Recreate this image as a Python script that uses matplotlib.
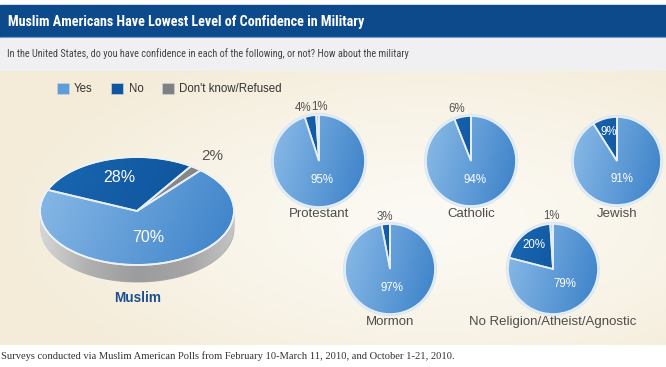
import numpy as np
import matplotlib
matplotlib.use('Agg')
import matplotlib.pyplot as plt
from matplotlib.patches import Rectangle, Patch, Circle
from matplotlib.colors import LinearSegmentedColormap, to_rgb
from matplotlib import font_manager

# --- data ---
responses = ['Yes', 'No', "Don't know/Refused"]
muslim = [70, 28, 2]
groups = ['Protestant', 'Catholic', 'Jewish', 'Mormon', 'No Religion/Atheist/Agnostic']
yes_vals = [95, 94, 91, 97, 79]
no_vals = [4, 6, 9, 3, 20]
dk_vals = [1, 0, 0, 0, 1]

title = 'Muslim Americans Have Lowest Level of Confidence in Military'
subtitle = ('In the United States, do you have confidence in each of the following, '
            'or not? How about the military')
footer = ('Surveys conducted via Muslim American Polls from February 10-March 11, 2010, '
          'and October 1-21, 2010.')

# layout (pixels) for the small pies: centre x, centre y, radius
small_pos = [(319, 161, 46), (471, 161, 45), (617, 161, 44), (390, 269, 45), (553, 269, 45)]

yes_grad = ('#8cbce8', '#3a80c8')
no_grad = ('#1a68b2', '#0a4c94')
dk_grad_small = ('#d4d4d4', '#b8b8b8')
dk_grad_big = ('#a0a0a0', '#787878')
edge_col = '#e6eff8'

W, H = 666, 367
fig = plt.figure(figsize=(W / 100, H / 100), dpi=100)

# look for a condensed sans face for the header texts
fonts = font_manager.fontManager.ttflist
names = {f.name for f in fonts}
narrow, stretch = 'Liberation Sans', 'normal'
for cand in ['Liberation Sans Narrow', 'Arial Narrow', 'Roboto Condensed', 'Open Sans Condensed',
             'Noto Sans Condensed']:
    if cand in names:
        narrow = cand
        break
else:
    cond = [f.name for f in fonts if f.stretch in ('condensed', 'semi-condensed', 'narrow')
            or (isinstance(f.stretch, int) and f.stretch < 500)]
    for fam in ['Liberation Sans', 'Noto Sans', 'Roboto', 'Open Sans', 'DejaVu Sans']:
        if fam in cond:
            narrow, stretch = fam, 'condensed'
            break


def fx(x):
    return x / W


def fy(y):
    return 1 - y / H


# --- background bands ---
bg = fig.add_axes([0, 0, 1, 1])
bg.set_xlim(0, W)
bg.set_ylim(H, 0)
bg.axis('off')
yy, xx = np.mgrid[70:345, 0:W]
dist = np.sqrt(((xx - 430) / 430.0) ** 2 + ((yy - 220) / 190.0) ** 2)
t = np.clip(dist, 0, 1)[..., None] ** 1.3
c_in, c_out = np.array(to_rgb('#fcfaf4')), np.array(to_rgb('#f4ecd9'))
bg.imshow(c_in * (1 - t) + c_out * t, extent=(0, W, 345, 70), aspect='auto', zorder=0)
bg.add_patch(Rectangle((0, 5), W, 33, color='#0c4a8c', zorder=1))
bg.add_patch(Rectangle((0, 36.5), W, 1.5, color='#4f86c0', zorder=1))
bg.add_patch(Rectangle((0, 38), W, 32, color='#f0f0f2', zorder=1))
bg.set_xlim(0, W)
bg.set_ylim(H, 0)

# gradient used to shade the wedges (light upper-left, dark lower-right)
gx, gy = np.meshgrid(np.linspace(0, 1, 200), np.linspace(0, 1, 200))
grad = 0.8 * gx + 0.2 * gy
grad = (grad - grad.min()) / (grad.max() - grad.min())


def shade(ax, wedges, pairs, z=1.5):
    for w, (c1, c2) in zip(wedges, pairs):
        cmap = LinearSegmentedColormap.from_list('g', [c1, c2])
        im = ax.imshow(grad, cmap=cmap, vmin=0, vmax=1, extent=(-1.02, 1.02, -1.02, 1.02),
                       aspect='auto', interpolation='bilinear', zorder=z)
        im.set_clip_path(w)


# --- big 3D Muslim pie ---
cx, cy, rx, ry, depth = 137, 211, 97, 54, 17
d = depth / ry
pad = 1.35
axm = fig.add_axes([fx(cx - rx * pad), fy(cy + ry * (pad + d)), 2 * rx * pad / W, ry * (2 * pad + d) / H])
xs = np.linspace(-1, 1, 300)
side = axm.fill_between(xs, -np.sqrt(1 - xs ** 2) - d, np.zeros_like(xs), color='#aaaaaa', lw=0, zorder=0.4)
side_cmap = LinearSegmentedColormap.from_list('s', ['#d6d6d6', '#b0b0b0', '#9c9c9c', '#a4a4a4', '#c4c4c4'])
sim = axm.imshow(np.linspace(0, 1, 256)[None, :], cmap=side_cmap, extent=(-1, 1, -1 - d, 0),
                 aspect='auto', zorder=0.5)
sim.set_clip_path(side.get_paths()[0], axm.transData)
wedges, _ = axm.pie(muslim, startangle=49, counterclock=False, wedgeprops=dict(lw=0))
shade(axm, wedges, [yes_grad, no_grad, dk_grad_big])
axm.pie(muslim, startangle=49, counterclock=False,
        wedgeprops=dict(fill=False, edgecolor=edge_col, linewidth=1.3, zorder=2))
axm.add_patch(Circle((0, 0), 1.0, fill=False, ec='#eef3f8', lw=1.2, zorder=2.1))
for w, v, dist_, col, fs in zip(wedges, muslim, [0.5, 0.65, 1.28], ['white', 'white', '#555555'], [11.5, 11.5, 11]):
    ang = np.deg2rad((w.theta1 + w.theta2) / 2)
    axm.text(dist_ * np.cos(ang), dist_ * np.sin(ang), f'{v}%', color=col, fontsize=fs,
             ha='center', va='center', family='Liberation Sans', zorder=3)
axm.set_aspect('auto')
axm.set_xlim(-pad, pad)
axm.set_ylim(-pad - d, pad)
axm.axis('off')
fig.text(fx(138), fy(298), 'Muslim', color='#1b4f8f', fontsize=9.8, weight='bold',
         ha='center', va='center', family='Liberation Sans')

# --- small pies ---
label_nudge = {(0, 1): (-6, 0), (0, 2): (2, 0), (1, 1): (-4, 0)}
for i, (name, pos) in enumerate(zip(groups, small_pos)):
    scx, scy, r = pos
    sp = 1.35
    ax = fig.add_axes([fx(scx - r * sp), fy(scy + r * sp), 2 * r * sp / W, 2 * r * sp / H])
    vals = [yes_vals[i], no_vals[i], dk_vals[i]]
    ax.add_patch(Circle((0, 0), 1.0, fill=False, ec='#d9e7f4', lw=3, zorder=0.9))
    wedges, _ = ax.pie(vals, startangle=90, counterclock=False, wedgeprops=dict(lw=0))
    shade(ax, wedges, [yes_grad, no_grad, dk_grad_small])
    ax.pie(vals, startangle=90, counterclock=False,
           wedgeprops=dict(fill=False, edgecolor=edge_col, linewidth=1.2, zorder=2))
    for k, (w, v) in enumerate(zip(wedges, vals)):
        if v == 0:
            continue
        ang = np.deg2rad((w.theta1 + w.theta2) / 2)
        if k == 0:
            rr, col = 0.42, 'white'
        elif k == 1 and v >= 9:
            rr, col = 0.68, 'white'
        else:
            rr, col = 1.17, '#555555'
        dx, dy = label_nudge.get((i, k), (0, 0))
        ax.text(rr * np.cos(ang) + dx / r, rr * np.sin(ang) + dy / r, f'{v}%', color=col,
                fontsize=8.3, ha='center', va='center', family='Liberation Sans', zorder=3)
    ax.set_aspect('auto')
    ax.set_xlim(-sp, sp)
    ax.set_ylim(-sp, sp)
    ax.axis('off')
    fig.text(fx(scx), fy(scy + 53), name, color='#4d4d4d', fontsize=9.5, ha='center',
             va='center', family='Liberation Sans')

# --- legend ---
handles = [Patch(facecolor=c, edgecolor='#c8d2dc', lw=0.5) for c in ['#5c9dda', '#0c56a2', '#808080']]
fig.legend(handles, responses, loc='center left', bbox_to_anchor=(fx(57), fy(89)), ncol=3,
           frameon=False, borderpad=0, borderaxespad=0, handlelength=1.05, handleheight=1.05,
           handletextpad=0.45, columnspacing=1.6,
           prop=dict(family='Liberation Sans', size=8.3), labelcolor='#333333')

# --- texts in bands ---
renderer = fig.canvas.get_renderer()


def fit(txt, width):
    bb = txt.get_window_extent(renderer)
    txt.set_fontsize(txt.get_fontsize() * width / bb.width)


t1 = fig.text(fx(8), fy(22), title, color='white', weight='bold', family=narrow,
              fontstretch=stretch, fontsize=11, va='center', ha='left')
fit(t1, 356 if narrow != 'Liberation Sans' else 385)
t2 = fig.text(fx(7), fy(54), subtitle, color='#444444', family=narrow,
              fontstretch=stretch, fontsize=8, va='center', ha='left')
fit(t2, 401 if narrow != 'Liberation Sans' else 425)
t3 = fig.text(fx(1), fy(356), footer, color='#333333', family='Liberation Serif',
              fontsize=7, va='center', ha='left')
fit(t3, 455)

fig.savefig('out.png', dpi=100)
